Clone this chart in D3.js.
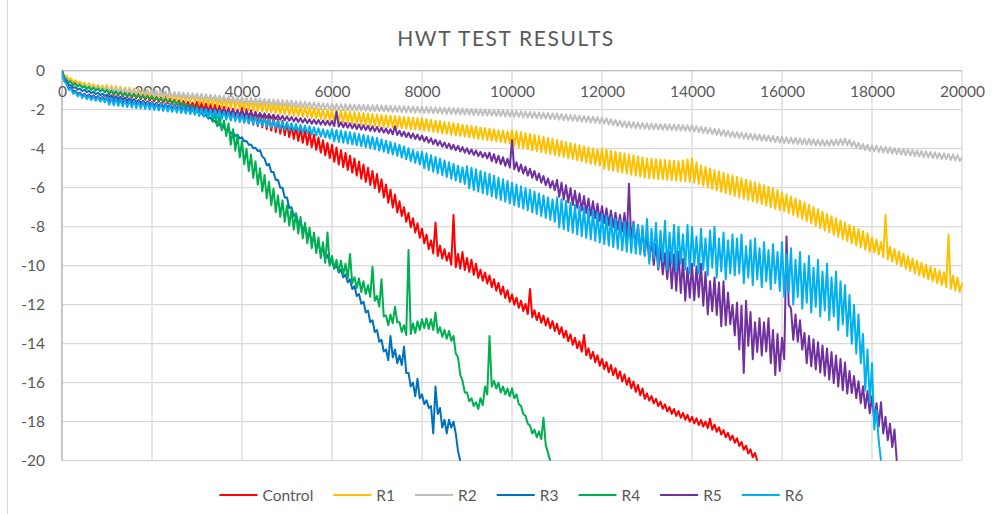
<!DOCTYPE html>
<html><head><meta charset="utf-8">
<script src="https://cdn.jsdelivr.net/npm/d3@7"></script>
<style>
body{margin:0;background:#fff;}
svg{display:block;font-family:Lato,"Open Sans",sans-serif;}
</style></head><body>
<svg id="chart" width="993" height="514"></svg>
<script>
// ---------------- DATA ----------------
// Each series is read from the picture as one oscillation cycle per 100 units of x:
// "Peaks" = local top of the cycle at x = i*100, "Troughs" = local bottom at x = i*100 + 50.
const chartTitle = "HWT TEST RESULTS";
const seriesNames = ["Control","R1","R2","R3","R4","R5","R6"];
const cycleLength = 100;
const xTickValues = [0,2000,4000,6000,8000,10000,12000,14000,16000,18000,20000];
const yTickValues = [0,-2,-4,-6,-8,-10,-12,-14,-16,-18,-20];

const controlPeaks = [0,-0.38,-0.5,-0.6,-0.67,-0.73,-0.78,-0.83,-0.88,-0.93,
-0.93,-0.97,-1.01,-1.05,-1.09,-1.13,-1.16,-1.2,-1.23,-1.27,
-1.3,-1.34,-1.37,-1.41,-1.44,-1.48,-1.52,-1.56,-1.6,-1.64,
-1.6,-1.64,-1.68,-1.72,-1.76,-1.8,-1.85,-1.9,-1.95,-2.0,
-1.9,-1.97,-2.04,-2.11,-2.18,-2.25,-2.33,-2.41,-2.49,-2.57,
-2.65,-2.75,-2.85,-2.95,-3.05,-3.15,-3.29,-3.43,-3.57,-3.71,
-3.8,-3.94,-4.08,-4.22,-4.36,-4.5,-4.66,-4.82,-4.98,-5.14,
-5.3,-5.57,-5.84,-6.1,-6.35,-6.7,-7.0,-7.3,-7.57,-7.83,
-8.1,-8.4,-8.7,-7.8,-8.97,-9.15,-9.35,-7.4,-9.4,-9.3,
-9.6,-9.7,-9.9,-10.2,-10.35,-10.5,-10.69,-10.88,-11.07,-11.26,
-11.48,-11.64,-11.8,-11.96,-11.2,-12.28,-12.42,-12.56,-12.7,-12.84,
-12.98,-13.16,-13.34,-13.52,-13.7,-13.88,-13.55,-14.24,-14.42,-14.6,
-14.78,-14.94,-15.1,-15.26,-15.42,-15.58,-15.76,-15.94,-16.12,-16.3,
-16.55,-16.69,-16.83,-16.97,-17.11,-17.25,-17.35,-17.45,-17.55,-17.65,
-17.75,-17.83,-17.91,-17.99,-17.85,-18.15,-18.29,-18.43,-18.57,-18.71,
-18.85,-19.04,-19.23,-19.42,-19.61];
const controlTroughs = [-0.3,-0.55,-0.66,-0.74,-0.82,-0.9,-0.95,-1.0,-1.05,-1.1,
-1.2,-1.24,-1.28,-1.32,-1.36,-1.39,-1.42,-1.46,-1.49,-1.53,
-1.56,-1.6,-1.63,-1.67,-1.7,-1.74,-1.78,-1.82,-1.86,-1.9,
-2.02,-2.06,-2.1,-2.14,-2.18,-2.23,-2.28,-2.33,-2.38,-2.43,
-2.64,-2.7,-2.77,-2.84,-2.91,-2.99,-3.07,-3.15,-3.23,-3.31,
-3.4,-3.5,-3.6,-3.7,-3.8,-3.92,-4.06,-4.2,-4.34,-4.48,
-4.67,-4.81,-4.95,-5.09,-5.23,-5.38,-5.54,-5.7,-5.86,-6.02,
-6.23,-6.5,-6.77,-7.02,-7.27,-7.45,-7.75,-8.03,-8.3,-8.57,
-8.85,-9.15,-9.37,-9.5,-9.63,-9.75,-9.95,-10.08,-10.15,-10.22,
-10.32,-10.47,-10.62,-10.77,-10.92,-11.1,-11.28,-11.47,-11.66,-11.85,
-12.0,-12.16,-12.32,-12.48,-12.64,-12.79,-12.93,-13.07,-13.21,-13.35,
-13.51,-13.69,-13.87,-14.05,-14.23,-14.41,-14.59,-14.77,-14.95,-15.13,
-15.3,-15.46,-15.62,-15.78,-15.94,-16.11,-16.29,-16.47,-16.65,-16.83,
-16.92,-17.06,-17.2,-17.34,-17.48,-17.6,-17.7,-17.8,-17.9,-18.0,
-18.09,-18.17,-18.25,-18.33,-18.41,-18.52,-18.66,-18.8,-18.94,-19.08,
-19.25,-19.44,-19.63,-19.82,-20.0];

const r1Peaks = [0,-0.26,-0.4,-0.49,-0.56,-0.62,-0.66,-0.69,-0.73,-0.76,
-0.73,-0.76,-0.79,-0.82,-0.85,-0.88,-0.91,-0.94,-0.97,-1.0,
-1.03,-1.06,-1.09,-1.12,-1.15,-1.18,-1.2,-1.22,-1.24,-1.26,
-1.2,-1.23,-1.26,-1.29,-1.32,-1.35,-1.37,-1.4,-1.42,-1.45,
-1.47,-1.5,-1.53,-1.55,-1.58,-1.61,-1.64,-1.67,-1.69,-1.72,
-1.75,-1.78,-1.81,-1.84,-1.87,-1.9,-1.93,-1.96,-1.99,-2.02,
-2.0,-2.02,-2.05,-2.07,-2.1,-2.12,-2.15,-2.17,-2.2,-2.22,
-2.25,-2.27,-2.29,-2.31,-2.33,-2.35,-2.37,-2.39,-2.41,-2.43,
-2.45,-2.49,-2.52,-2.56,-2.59,-2.63,-2.66,-2.7,-2.73,-2.77,
-2.8,-2.84,-2.87,-2.91,-2.94,-2.98,-3.01,-3.05,-3.08,-3.12,
-3.05,-3.1,-3.15,-3.2,-3.25,-3.3,-3.35,-3.4,-3.45,-3.5,
-3.55,-3.6,-3.66,-3.71,-3.77,-3.82,-3.88,-3.94,-3.99,-4.05,
-4.0,-4.05,-4.1,-4.15,-4.2,-4.25,-4.3,-4.35,-4.4,-4.45,
-4.5,-4.52,-4.54,-4.56,-4.58,-4.6,-4.62,-4.64,-4.6,-4.55,
-4.5,-4.7,-4.86,-4.94,-5.02,-5.1,-5.17,-5.24,-5.31,-5.38,
-5.45,-5.52,-5.59,-5.66,-5.73,-5.8,-5.88,-5.96,-6.04,-6.12,
-6.25,-6.35,-6.45,-6.55,-6.65,-6.75,-6.87,-6.99,-7.11,-7.23,
-7.35,-7.46,-7.57,-7.68,-7.79,-7.9,-8.01,-8.12,-8.23,-8.34,
-8.55,-8.67,-8.79,-7.4,-9.03,-9.15,-9.27,-9.39,-9.51,-9.63,
-9.75,-9.85,-9.95,-10.05,-10.15,-10.25,-10.34,-8.4,-10.52,-10.61,
-10.9];
const r1Troughs = [-0.25,-0.44,-0.56,-0.66,-0.74,-0.8,-0.84,-0.89,-0.93,-0.98,
-1.09,-1.12,-1.15,-1.18,-1.21,-1.24,-1.27,-1.3,-1.33,-1.36,
-1.39,-1.42,-1.45,-1.48,-1.51,-1.53,-1.55,-1.57,-1.59,-1.61,
-1.72,-1.75,-1.78,-1.81,-1.84,-1.86,-1.89,-1.91,-1.94,-1.96,
-1.99,-2.02,-2.04,-2.07,-2.1,-2.12,-2.15,-2.18,-2.21,-2.24,
-2.27,-2.3,-2.33,-2.36,-2.39,-2.42,-2.45,-2.48,-2.51,-2.54,
-2.61,-2.64,-2.66,-2.69,-2.71,-2.74,-2.76,-2.79,-2.81,-2.84,
-2.86,-2.88,-2.9,-2.92,-2.94,-2.96,-2.98,-3.0,-3.02,-3.04,
-3.07,-3.1,-3.14,-3.17,-3.21,-3.24,-3.28,-3.31,-3.35,-3.38,
-3.42,-3.45,-3.49,-3.52,-3.56,-3.59,-3.63,-3.66,-3.7,-3.73,
-3.88,-3.93,-3.98,-4.03,-4.08,-4.13,-4.18,-4.23,-4.28,-4.33,
-4.38,-4.43,-4.49,-4.54,-4.6,-4.65,-4.71,-4.77,-4.82,-4.88,
-5.03,-5.08,-5.13,-5.18,-5.23,-5.28,-5.33,-5.38,-5.43,-5.48,
-5.51,-5.53,-5.55,-5.57,-5.59,-5.61,-5.63,-5.65,-5.67,-5.69,
-5.74,-5.82,-5.9,-5.98,-6.06,-6.14,-6.21,-6.28,-6.35,-6.42,
-6.49,-6.56,-6.63,-6.7,-6.77,-6.84,-6.92,-7.0,-7.08,-7.16,
-7.2,-7.3,-7.4,-7.5,-7.6,-7.71,-7.83,-7.95,-8.07,-8.19,
-8.3,-8.41,-8.52,-8.63,-8.74,-8.85,-8.96,-9.07,-9.18,-9.29,
-9.31,-9.43,-9.55,-9.67,-9.79,-9.91,-10.03,-10.15,-10.27,-10.39,
-10.5,-10.6,-10.7,-10.8,-10.9,-11.0,-11.09,-11.18,-11.27,-11.35];

const r2Peaks = [0,-0.39,-0.54,-0.64,-0.69,-0.74,-0.77,-0.8,-0.83,-0.86,
-0.85,-0.87,-0.89,-0.91,-0.93,-0.95,-0.97,-0.99,-1.01,-1.03,
-1.0,-1.02,-1.03,-1.05,-1.07,-1.09,-1.1,-1.12,-1.14,-1.15,
-1.17,-1.19,-1.21,-1.23,-1.25,-1.27,-1.29,-1.31,-1.33,-1.35,
-1.37,-1.39,-1.4,-1.42,-1.43,-1.45,-1.46,-1.48,-1.49,-1.51,
-1.52,-1.54,-1.56,-1.58,-1.6,-1.61,-1.63,-1.65,-1.67,-1.68,
-1.7,-1.71,-1.71,-1.72,-1.73,-1.74,-1.74,-1.75,-1.76,-1.77,
-1.77,-1.78,-1.79,-1.8,-1.81,-1.81,-1.82,-1.83,-1.84,-1.85,
-1.85,-1.86,-1.87,-1.88,-1.89,-1.9,-1.91,-1.92,-1.93,-1.94,
-1.95,-1.96,-1.97,-1.98,-1.99,-2.0,-2.01,-2.02,-2.03,-2.04,
-2.05,-2.07,-2.08,-2.1,-2.11,-2.13,-2.14,-2.16,-2.17,-2.19,
-2.2,-2.22,-2.24,-2.26,-2.28,-2.3,-2.32,-2.34,-2.36,-2.38,
-2.4,-2.44,-2.48,-2.52,-2.56,-2.6,-2.62,-2.64,-2.66,-2.68,
-2.7,-2.71,-2.72,-2.73,-2.74,-2.75,-2.76,-2.77,-2.78,-2.79,
-2.8,-2.84,-2.87,-2.91,-2.94,-2.98,-3.01,-3.05,-3.08,-3.12,
-3.15,-3.18,-3.2,-3.23,-3.25,-3.28,-3.3,-3.33,-3.35,-3.38,
-3.4,-3.42,-3.44,-3.45,-3.47,-3.49,-3.5,-3.52,-3.54,-3.56,
-3.57,-3.55,-3.53,-3.51,-3.48,-3.55,-3.62,-3.69,-3.75,-3.79,
-3.83,-3.85,-3.88,-3.91,-3.93,-3.96,-3.99,-4.01,-4.04,-4.06,
-4.09,-4.12,-4.14,-4.17,-4.19,-4.22,-4.24,-4.27,-4.29,-4.32,
-4.45];
const r2Troughs = [-0.31,-0.59,-0.71,-0.79,-0.84,-0.87,-0.9,-0.93,-0.96,-0.99,
-1.06,-1.08,-1.1,-1.12,-1.14,-1.16,-1.18,-1.2,-1.22,-1.24,
-1.31,-1.33,-1.34,-1.36,-1.38,-1.39,-1.41,-1.43,-1.45,-1.46,
-1.48,-1.5,-1.52,-1.54,-1.56,-1.58,-1.6,-1.62,-1.64,-1.66,
-1.68,-1.69,-1.71,-1.72,-1.74,-1.75,-1.77,-1.78,-1.8,-1.81,
-1.83,-1.85,-1.87,-1.89,-1.9,-1.92,-1.94,-1.96,-1.97,-1.99,
-2.0,-2.01,-2.02,-2.03,-2.04,-2.04,-2.05,-2.06,-2.07,-2.07,
-2.08,-2.09,-2.1,-2.11,-2.11,-2.12,-2.13,-2.14,-2.15,-2.15,
-2.16,-2.17,-2.18,-2.19,-2.2,-2.21,-2.22,-2.23,-2.24,-2.25,
-2.26,-2.27,-2.28,-2.29,-2.3,-2.31,-2.32,-2.33,-2.34,-2.35,
-2.36,-2.37,-2.39,-2.4,-2.42,-2.43,-2.45,-2.46,-2.48,-2.49,
-2.51,-2.53,-2.55,-2.57,-2.59,-2.61,-2.63,-2.65,-2.67,-2.69,
-2.72,-2.76,-2.8,-2.84,-2.88,-2.91,-2.93,-2.95,-2.97,-2.99,
-3.0,-3.01,-3.02,-3.03,-3.04,-3.05,-3.06,-3.07,-3.08,-3.09,
-3.12,-3.15,-3.19,-3.22,-3.26,-3.29,-3.33,-3.36,-3.4,-3.43,
-3.46,-3.49,-3.51,-3.54,-3.56,-3.59,-3.61,-3.64,-3.66,-3.69,
-3.71,-3.73,-3.74,-3.76,-3.78,-3.79,-3.81,-3.83,-3.85,-3.86,
-3.86,-3.84,-3.82,-3.8,-3.82,-3.88,-3.95,-4.02,-4.07,-4.11,
-4.14,-4.17,-4.2,-4.22,-4.25,-4.28,-4.3,-4.33,-4.35,-4.38,
-4.4,-4.43,-4.45,-4.48,-4.5,-4.53,-4.55,-4.58,-4.6,-4.63];

const r3Peaks = [0,-0.55,-0.74,-0.85,-0.92,-0.98,-1.03,-1.08,-1.13,-1.18,
-1.22,-1.26,-1.3,-1.34,-1.38,-1.42,-1.46,-1.5,-1.54,-1.58,
-1.62,-1.66,-1.7,-1.74,-1.78,-1.82,-1.87,-1.92,-1.97,-2.02,
-2.07,-2.15,-2.26,-2.4,-2.56,-2.74,-2.88,-3.03,-3.15,-3.28,
-3.42,-3.6,-3.78,-3.95,-4.08,-4.5,-4.78,-5.2,-5.6,-6.0,
-6.5,-7.0,-7.35,-7.75,-8.0,-8.35,-8.6,-8.9,-9.15,-9.45,
-9.75,-9.95,-10.2,-10.45,-10.7,-11.05,-11.45,-11.85,-12.3,-12.8,
-13.3,-13.8,-14.3,-13.6,-14.3,-14.6,-14.15,-15.5,-16.0,-15.8,
-16.6,-16.9,-17.2,-16.2,-17.3,-17.9,-17.9,-18.0,-19.5];
const r3Troughs = [-0.45,-0.75,-0.88,-0.97,-1.04,-1.1,-1.15,-1.2,-1.25,-1.3,
-1.36,-1.4,-1.44,-1.48,-1.52,-1.56,-1.6,-1.64,-1.68,-1.72,
-1.76,-1.8,-1.84,-1.88,-1.92,-1.96,-2.01,-2.06,-2.11,-2.16,
-2.22,-2.33,-2.45,-2.6,-2.78,-2.94,-3.08,-3.22,-3.35,-3.48,
-3.62,-3.8,-3.98,-4.12,-4.4,-4.85,-5.2,-5.6,-6.0,-6.5,
-7.05,-7.45,-7.85,-8.15,-8.45,-8.75,-9.05,-9.3,-9.6,-9.9,
-10.15,-10.35,-10.6,-10.85,-11.2,-11.55,-11.95,-12.4,-12.9,-13.4,
-13.9,-14.4,-14.85,-14.7,-15.0,-15.1,-15.5,-16.2,-16.7,-16.8,
-17.1,-17.3,-18.6,-17.6,-18.3,-18.6,-18.3,-18.6,-20.0];

const r4Peaks = [0,-0.45,-0.58,-0.66,-0.72,-0.79,-0.83,-0.87,-0.91,-0.95,
-0.99,-1.03,-1.07,-1.11,-1.15,-1.19,-1.22,-1.25,-1.28,-1.31,
-1.34,-1.38,-1.42,-1.46,-1.5,-1.54,-1.6,-1.66,-1.72,-1.78,
-1.84,-1.94,-2.05,-2.0,-2.2,-2.35,-2.55,-2.7,-3.0,-3.3,
-3.6,-4.0,-4.3,-4.65,-5.0,-5.35,-5.7,-6.05,-6.4,-6.65,
-6.9,-7.1,-7.3,-7.5,-7.8,-8.05,-8.3,-8.55,-8.8,-8.3,
-9.5,-9.7,-9.75,-9.9,-9.4,-10.6,-10.65,-10.8,-11.0,-10.05,
-11.55,-10.7,-12.55,-12.5,-12.1,-12.9,-13.05,-9.2,-12.95,-12.85,
-12.75,-12.7,-12.75,-12.4,-13.15,-13.3,-13.35,-13.6,-14.7,-15.9,
-16.5,-16.8,-17.0,-16.8,-16.2,-13.6,-15.9,-16.0,-16.2,-16.3,
-16.3,-16.6,-17.2,-17.7,-18.2,-18.4,-18.5,-17.8,-19.6];
const r4Troughs = [-0.35,-0.62,-0.74,-0.81,-0.87,-0.94,-0.98,-1.02,-1.06,-1.1,
-1.14,-1.18,-1.22,-1.26,-1.3,-1.33,-1.36,-1.39,-1.42,-1.45,
-1.49,-1.53,-1.57,-1.61,-1.65,-1.71,-1.77,-1.83,-1.89,-1.95,
-2.05,-2.2,-2.38,-2.6,-2.85,-3.05,-3.35,-3.8,-4.1,-4.45,
-4.8,-5.15,-5.5,-5.85,-6.2,-6.55,-6.9,-7.25,-7.5,-7.75,
-7.95,-8.15,-8.35,-8.6,-8.85,-9.1,-9.35,-9.6,-9.85,-10.0,
-10.15,-10.3,-10.45,-10.65,-10.9,-11.15,-11.35,-11.45,-11.6,-11.8,
-12.1,-12.6,-13.05,-12.95,-12.9,-13.4,-13.55,-13.5,-13.45,-13.3,
-13.2,-13.25,-13.3,-13.45,-13.65,-13.75,-13.85,-14.5,-15.6,-16.5,
-16.95,-17.2,-17.35,-17.15,-16.6,-16.2,-16.3,-16.5,-16.6,-16.7,
-16.8,-17.1,-17.6,-18.1,-18.6,-18.8,-18.9,-19.2,-20.0];

const r5Peaks = [0,-0.64,-0.89,-1.04,-1.12,-1.18,-1.22,-1.26,-1.3,-1.34,
-1.34,-1.37,-1.4,-1.43,-1.46,-1.49,-1.51,-1.54,-1.56,-1.59,
-1.61,-1.64,-1.66,-1.69,-1.71,-1.74,-1.76,-1.79,-1.81,-1.84,
-1.86,-1.88,-1.9,-1.92,-1.94,-1.96,-1.98,-2.0,-2.02,-2.05,
-2.07,-2.09,-2.12,-2.14,-2.17,-2.19,-2.22,-2.25,-2.28,-2.31,
-2.34,-2.37,-2.4,-2.43,-2.46,-2.49,-2.51,-2.53,-2.55,-2.57,
-2.58,-2.1,-2.64,-2.67,-2.7,-2.73,-2.76,-2.79,-2.82,-2.85,
-2.88,-2.92,-2.96,-3.0,-2.85,-3.08,-3.13,-3.18,-3.23,-3.28,
-3.33,-3.4,-3.47,-3.54,-3.61,-3.68,-3.74,-3.8,-3.86,-3.92,
-3.98,-4.04,-4.1,-4.16,-4.22,-4.2,-4.28,-4.36,-4.44,-4.52,
-3.55,-4.7,-4.81,-4.92,-5.03,-5.14,-5.27,-5.4,-5.53,-5.66,
-5.6,-5.74,-5.88,-6.02,-6.16,-6.3,-6.43,-6.56,-6.69,-6.82,
-6.95,-7.06,-7.17,-7.28,-7.39,-7.3,-5.8,-7.74,-7.96,-8.18,
-8.4,-8.64,-8.88,-9.12,-9.36,-9.3,-9.42,-9.3,-9.66,-10.1,
-9.9,-10.04,-9.9,-10.32,-10.8,-10.6,-10.86,-10.8,-11.38,-12.0,
-11.9,-12.06,-11.8,-12.38,-12.9,-12.7,-12.9,-12.7,-13.3,-13.5,
-13.7,-8.5,-12.2,-12.5,-12.8,-13.45,-13.61,-13.77,-13.93,-14.09,
-14.25,-14.43,-14.61,-14.79,-14.97,-15.4,-15.66,-15.92,-16.18,-16.44,
-16.7,-17.05,-17.0,-17.75,-18.1,-18.4];
const r5Troughs = [-0.45,-0.86,-1.05,-1.18,-1.26,-1.33,-1.36,-1.4,-1.44,-1.48,
-1.57,-1.6,-1.63,-1.66,-1.69,-1.72,-1.74,-1.77,-1.79,-1.82,
-1.84,-1.87,-1.89,-1.92,-1.94,-1.97,-1.99,-2.02,-2.04,-2.07,
-2.09,-2.11,-2.13,-2.15,-2.17,-2.19,-2.21,-2.23,-2.25,-2.28,
-2.3,-2.32,-2.35,-2.37,-2.4,-2.42,-2.45,-2.48,-2.51,-2.54,
-2.57,-2.6,-2.63,-2.66,-2.69,-2.72,-2.74,-2.76,-2.78,-2.8,
-2.84,-2.87,-2.9,-2.93,-2.96,-2.99,-3.02,-3.05,-3.08,-3.11,
-3.14,-3.18,-3.22,-3.26,-3.3,-3.35,-3.4,-3.45,-3.5,-3.55,
-3.62,-3.69,-3.76,-3.83,-3.9,-3.96,-4.02,-4.08,-4.14,-4.2,
-4.26,-4.32,-4.38,-4.44,-4.5,-4.64,-4.72,-4.8,-4.88,-4.97,
-5.05,-5.16,-5.27,-5.38,-5.49,-5.61,-5.74,-5.87,-6.0,-6.13,
-6.47,-6.61,-6.75,-6.89,-7.03,-7.17,-7.3,-7.43,-7.56,-7.69,
-7.81,-7.92,-8.03,-8.14,-8.25,-8.61,-8.83,-9.05,-9.27,-9.49,
-9.72,-9.96,-10.2,-10.44,-10.68,-11.16,-11.28,-11.4,-11.8,-11.64,
-11.77,-11.6,-12.05,-12.5,-12.33,-12.53,-13.1,-13.05,-13.0,-13.57,
-14.3,-15.5,-14.1,-14.8,-14.42,-14.6,-14.4,-15.0,-15.6,-15.4,
-14.8,-12.0,-13.8,-13.9,-14.3,-15.0,-15.16,-15.32,-15.48,-15.64,
-15.84,-16.02,-16.2,-16.38,-16.56,-16.53,-16.79,-17.05,-17.31,-17.57,
-17.9,-18.25,-18.6,-18.95,-19.3,-20.0];

const r6Peaks = [0,-0.68,-0.93,-1.08,-1.16,-1.23,-1.27,-1.31,-1.35,-1.39,
-1.38,-1.41,-1.44,-1.47,-1.5,-1.53,-1.55,-1.58,-1.6,-1.63,
-1.65,-1.68,-1.7,-1.73,-1.75,-1.78,-1.81,-1.84,-1.87,-1.9,
-1.9,-1.93,-1.96,-1.99,-2.02,-2.05,-2.09,-2.13,-2.17,-2.21,
-2.25,-2.29,-2.33,-2.37,-2.41,-2.45,-2.49,-2.53,-2.57,-2.61,
-2.65,-2.69,-2.73,-2.77,-2.81,-2.85,-2.9,-2.95,-3.0,-3.05,
-3.0,-3.04,-3.08,-3.12,-3.16,-3.2,-3.25,-3.3,-3.35,-3.4,
-3.45,-3.52,-3.59,-3.66,-3.73,-3.8,-3.89,-3.98,-4.07,-4.16,
-4.15,-4.24,-4.33,-4.42,-4.51,-4.6,-4.69,-4.78,-4.87,-4.96,
-4.9,-4.98,-5.06,-5.14,-5.22,-5.3,-5.39,-5.48,-5.57,-5.66,
-5.75,-5.84,-5.93,-6.02,-6.11,-6.2,-6.3,-6.4,-6.5,-6.6,
-6.5,-6.59,-6.68,-6.77,-6.86,-6.95,-7.03,-7.11,-7.19,-7.27,
-7.35,-7.43,-7.51,-7.59,-7.67,-7.75,-7.8,-7.85,-7.9,-7.95,
-7.6,-8.1,-7.8,-8.2,-7.7,-8.3,-7.9,-8.0,-8.4,-7.9,
-8.0,-8.5,-8.1,-8.6,-8.2,-8.0,-8.6,-8.3,-8.7,-8.4,
-8.6,-8.4,-9.0,-8.7,-8.6,-9.1,-8.8,-9.2,-8.9,-9.3,
-8.8,-9.4,-9.1,-9.7,-9.3,-9.9,-9.5,-10.1,-9.7,-10.3,
-9.9,-10.6,-10.3,-10.8,-11.0,-11.5,-12.0,-12.5,-13.5,-14.3,
-15.0,-17.4,-20.0];
const r6Troughs = [-0.55,-0.98,-1.19,-1.32,-1.4,-1.46,-1.5,-1.54,-1.58,-1.62,
-1.74,-1.77,-1.8,-1.83,-1.86,-1.89,-1.91,-1.94,-1.96,-1.99,
-2.01,-2.04,-2.06,-2.09,-2.11,-2.14,-2.17,-2.2,-2.23,-2.26,
-2.32,-2.35,-2.38,-2.41,-2.44,-2.47,-2.51,-2.55,-2.59,-2.63,
-2.67,-2.71,-2.75,-2.79,-2.83,-2.87,-2.91,-2.95,-2.99,-3.03,
-3.07,-3.11,-3.15,-3.19,-3.23,-3.28,-3.33,-3.38,-3.43,-3.48,
-3.62,-3.66,-3.7,-3.74,-3.78,-3.83,-3.88,-3.93,-3.98,-4.03,
-4.09,-4.16,-4.23,-4.3,-4.37,-4.45,-4.54,-4.63,-4.72,-4.81,
-5.0,-5.09,-5.18,-5.27,-5.36,-5.45,-5.54,-5.63,-5.72,-5.81,
-6.04,-6.12,-6.2,-6.28,-6.36,-6.45,-6.54,-6.63,-6.72,-6.81,
-6.9,-6.99,-7.08,-7.17,-7.26,-7.35,-7.45,-7.55,-7.65,-7.75,
-8.04,-8.13,-8.22,-8.31,-8.4,-8.49,-8.57,-8.65,-8.73,-8.81,
-8.89,-8.97,-9.05,-9.13,-9.21,-9.28,-9.33,-9.38,-9.43,-9.48,
-9.9,-9.6,-10.1,-9.8,-10.2,-9.9,-10.3,-9.9,-10.2,-10.4,
-10.0,-10.4,-10.2,-10.5,-10.1,-10.6,-10.3,-10.7,-10.4,-10.5,
-10.4,-10.9,-10.6,-11.0,-10.7,-11.1,-10.8,-11.2,-10.9,-11.3,
-11.6,-11.4,-12.0,-11.6,-12.2,-11.9,-12.4,-12.1,-12.6,-12.3,
-12.8,-12.6,-13.3,-13.0,-13.6,-14.0,-14.5,-15.0,-16.4,-17.0,
-18.4,-19.0];

const seriesPeaks = [controlPeaks, r1Peaks, r2Peaks, r3Peaks, r4Peaks, r5Peaks, r6Peaks];
const seriesTroughs = [controlTroughs, r1Troughs, r2Troughs, r3Troughs, r4Troughs, r5Troughs, r6Troughs];
const seriesColors = ["#FF0000","#FFC000","#BFBFBF","#0070C0","#00B050","#7030A0","#00B0F0"];

// ---------------- LAYOUT ----------------
const W = 993, H = 514;
const plot = {left: 62, right: 962, top: 70.7, bottom: 460.7};
const textColor = "#595959";
const gridColor = "#D9D9D9";
const fontStack = "Lato, 'Open Sans', sans-serif";

const svg = d3.select("#chart");
svg.append("rect").attr("width", W).attr("height", H).attr("fill", "#fff");
svg.append("line").attr("x1", 7.5).attr("x2", 7.5).attr("y1", 0).attr("y2", H)
  .attr("stroke", gridColor).attr("stroke-width", 1.2);

const x = d3.scaleLinear().domain([0, 20000]).range([plot.left, plot.right]);
const y = d3.scaleLinear().domain([-20, 0]).range([plot.bottom, plot.top]);

// title
svg.append("text").attr("x", 506).attr("y", 46).attr("text-anchor", "middle")
  .attr("fill", textColor).attr("font-size", 21).attr("letter-spacing", 1.6)
  .text(chartTitle);

// gridlines
const grid = svg.append("g");
grid.selectAll(".vg").data(xTickValues).join("line")
  .attr("x1", d => x(d)).attr("x2", d => x(d))
  .attr("y1", plot.top).attr("y2", plot.bottom)
  .attr("stroke", gridColor).attr("stroke-width", 1.3);
grid.selectAll(".hg").data(yTickValues).join("line")
  .attr("x1", plot.left).attr("x2", plot.right)
  .attr("y1", d => y(d)).attr("y2", d => y(d))
  .attr("stroke", gridColor).attr("stroke-width", 1.3);

// axis lines
svg.append("line").attr("x1", plot.left).attr("x2", plot.left).attr("y1", plot.top).attr("y2", plot.bottom)
  .attr("stroke", "#BFBFBF").attr("stroke-width", 1.6);
svg.append("line").attr("x1", plot.left).attr("x2", plot.right).attr("y1", plot.top).attr("y2", plot.top)
  .attr("stroke", "#BFBFBF").attr("stroke-width", 1.3);

// tick labels via d3 axes
const xAxis = d3.axisBottom(x).tickValues(xTickValues).tickSize(0).tickPadding(15)
  .tickFormat(d => String(d));
const gx = svg.append("g").attr("transform", `translate(0,${plot.top})`).call(xAxis);
gx.select(".domain").remove();
gx.selectAll("text").attr("fill", textColor).attr("font-size", 15.5).attr("font-family", fontStack);

const yAxis = d3.axisLeft(y).tickValues(yTickValues).tickSize(0).tickPadding(17)
  .tickFormat(d => String(d));
const gy = svg.append("g").attr("transform", `translate(${plot.left},0)`).call(yAxis);
gy.select(".domain").remove();
gy.selectAll("text").attr("fill", textColor).attr("font-size", 15.5).attr("font-family", fontStack);

// clip
svg.append("clipPath").attr("id", "plotClip").append("rect")
  .attr("x", plot.left).attr("y", plot.top - 2).attr("width", plot.right - plot.left + 2).attr("height", plot.bottom - plot.top + 3);

// combine each cycle's peak and trough readings into [x, value] points
function cyclePoints(peaks, troughs) {
  const pts = [];
  peaks.forEach((p, i) => {
    pts.push([i * cycleLength, p]);
    if (i < troughs.length) pts.push([i * cycleLength + cycleLength / 2, troughs[i]]);
  });
  return pts;
}

const line = d3.line().x(d => x(d[0])).y(d => y(d[1]));
const lines = svg.append("g").attr("clip-path", "url(#plotClip)");
seriesNames.forEach((name, k) => {
  lines.append("path").datum(cyclePoints(seriesPeaks[k], seriesTroughs[k]))
    .attr("d", line)
    .attr("fill", "none")
    .attr("stroke", seriesColors[k])
    .attr("stroke-width", 2)
    .attr("stroke-linejoin", "round");
});

// legend
const legend = svg.append("g");
const items = [];
seriesNames.forEach((name, k) => {
  const g = legend.append("g");
  g.append("line").attr("x1", 0).attr("x2", 38).attr("y1", 0).attr("y2", 0)
    .attr("stroke", seriesColors[k]).attr("stroke-width", 2);
  const t = g.append("text").attr("x", 43).attr("y", 5.5).attr("fill", textColor)
    .attr("font-size", 15.5).text(name);
  items.push({g, w: 43 + t.node().getComputedTextLength()});
});
const gap = 20;
const total = items.reduce((s, it) => s + it.w, 0) + gap * (items.length - 1);
let lx = 511.5 - total / 2;
items.forEach(it => {
  it.g.attr("transform", `translate(${lx},495)`);
  lx += it.w + gap;
});
</script>
</body></html>
